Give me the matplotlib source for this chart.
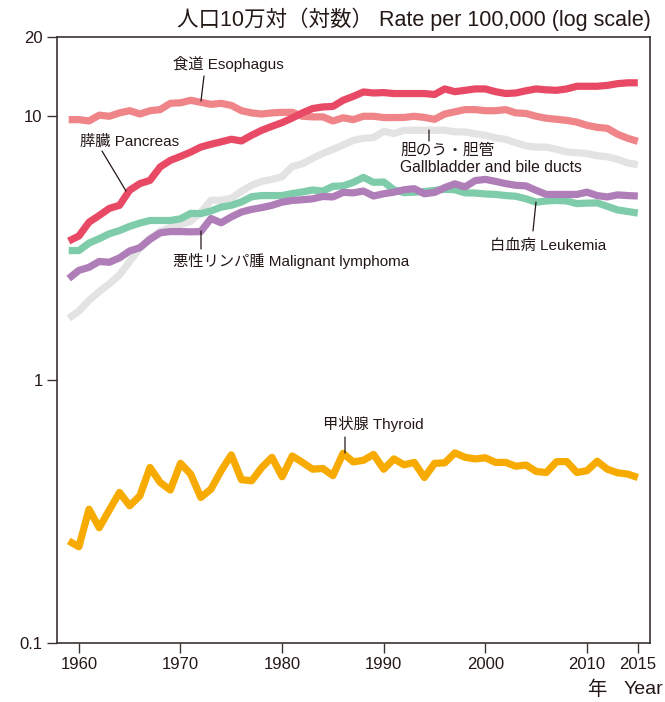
import matplotlib
matplotlib.use("Agg")
import matplotlib.pyplot as plt
from matplotlib.ticker import FixedLocator, NullLocator

years = list(range(1959, 2016))

pancreas = [3.36, 3.51, 3.96, 4.2, 4.47, 4.59, 5.24, 5.55, 5.71, 6.42, 6.8, 7.04, 7.31, 7.64,
            7.83, 8.0, 8.18, 8.06, 8.47, 8.85, 9.16, 9.46, 9.85, 10.3, 10.7, 10.85, 10.9, 11.5,
            11.9, 12.37, 12.26, 12.3, 12.2, 12.2, 12.2, 12.2, 12.1, 12.7, 12.4, 12.55, 12.7, 12.7,
            12.4, 12.2, 12.26, 12.5, 12.7, 12.6, 12.55, 12.7, 13.0, 13.0, 13.0, 13.1, 13.3, 13.4, 13.4]

esophagus = [9.71, 9.71, 9.6, 10.1, 10.0, 10.3, 10.5, 10.2, 10.5, 10.6, 11.2, 11.25, 11.5, 11.3,
             11.1, 11.2, 11.0, 10.5, 10.3, 10.2, 10.3, 10.35, 10.35, 10.0, 9.95, 9.95, 9.6, 9.87,
             9.71, 10.0, 10.0, 9.89, 9.89, 9.9, 10.0, 9.9, 9.74, 10.2, 10.4, 10.6, 10.6, 10.5,
             10.5, 10.6, 10.3, 10.25, 10.0, 9.83, 9.74, 9.65, 9.5, 9.24, 9.08, 9.0, 8.55, 8.25, 8.03]

gallbladder = [1.71, 1.82, 2.0, 2.16, 2.31, 2.5, 2.81, 3.16, 3.44, 3.66, 3.78, 3.88, 3.99, 4.32,
               4.8, 4.8, 4.88, 5.19, 5.47, 5.66, 5.76, 5.9, 6.45, 6.6, 6.92, 7.23, 7.49, 7.77,
               8.1, 8.25, 8.3, 8.77, 8.6, 8.85, 8.85, 8.85, 8.85, 8.85, 8.73, 8.72, 8.58, 8.47,
               8.28, 8.17, 7.93, 7.72, 7.64, 7.64, 7.49, 7.32, 7.27, 7.22, 7.08, 7.02, 6.86, 6.65, 6.55]

leukemia = [3.09, 3.09, 3.3, 3.43, 3.58, 3.68, 3.82, 3.93, 4.02, 4.02, 4.02, 4.08, 4.28, 4.27,
            4.37, 4.52, 4.59, 4.73, 4.95, 5.0, 5.0, 5.0, 5.09, 5.16, 5.25, 5.2, 5.42, 5.44,
            5.61, 5.86, 5.61, 5.63, 5.26, 5.13, 5.15, 5.18, 5.23, 5.28, 5.26, 5.12, 5.11, 5.07,
            5.05, 5.0, 4.97, 4.86, 4.72, 4.77, 4.79, 4.77, 4.66, 4.68, 4.69, 4.55, 4.41, 4.35, 4.29]

lymphoma = [2.42, 2.6, 2.67, 2.81, 2.79, 2.9, 3.08, 3.17, 3.41, 3.61, 3.65, 3.65, 3.64, 3.65,
            4.09, 3.94, 4.15, 4.33, 4.43, 4.5, 4.59, 4.72, 4.79, 4.82, 4.86, 4.96, 4.94, 5.14,
            5.12, 5.2, 4.98, 5.08, 5.15, 5.26, 5.31, 5.08, 5.14, 5.36, 5.54, 5.39, 5.7, 5.76,
            5.66, 5.55, 5.47, 5.44, 5.23, 5.05, 5.05, 5.05, 5.05, 5.15, 5.0, 4.94, 5.03, 5.0, 4.98]

thyroid = [0.244, 0.232, 0.322, 0.274, 0.32, 0.373, 0.332, 0.362, 0.464, 0.407, 0.381, 0.481,
           0.438, 0.357, 0.384, 0.451, 0.518, 0.417, 0.413, 0.464, 0.507, 0.428, 0.513, 0.485,
           0.457, 0.46, 0.432, 0.525, 0.487, 0.494, 0.52, 0.457, 0.5, 0.475, 0.485, 0.425,
           0.481, 0.483, 0.527, 0.507, 0.5, 0.505, 0.485, 0.485, 0.469, 0.474, 0.448, 0.444,
           0.488, 0.489, 0.444, 0.451, 0.49, 0.457, 0.443, 0.438, 0.425]

x_ticks = [1960, 1970, 1980, 1990, 2000, 2010, 2015]
y_ticks = [0.1, 1, 10, 20]
y_tick_labels = ["0.1", "1", "10", "20"]

FAM = ["Liberation Sans", "Noto Sans CJK JP", "DejaVu Sans"]
plt.rcParams["font.family"] = FAM
INK = "#231815"

W, H = 665, 702
fig = plt.figure(figsize=(W / 100, H / 100), dpi=100)
L, R, T, B = 56.5, 650, 37, 643
ax = fig.add_axes([L / W, 1 - B / H, (R - L) / W, (B - T) / H])

series = [
    (gallbladder, "#E3E3E3"),
    (leukemia, "#7FCCAB"),
    (lymphoma, "#AF7DB7"),
    (esophagus, "#F08589"),
    (pancreas, "#E84A66"),
    (thyroid, "#F7AB00"),
]
for vals, col in series:
    ax.plot(years, vals, color=col, lw=5.2, solid_capstyle="butt", solid_joinstyle="round")

ax.set_yscale("log")
ax.set_ylim(0.1, 20)
ax.set_xlim(1957.8, 2016.2)
ax.yaxis.set_major_locator(FixedLocator(y_ticks))
ax.yaxis.set_minor_locator(NullLocator())
ax.set_yticklabels(y_tick_labels)
ax.set_xticks(x_ticks)
ax.set_xticklabels([str(v) for v in x_ticks])
ax.tick_params(axis="both", direction="out", length=7, width=1.0, color="#3a3330",
               labelsize=12, labelcolor=INK, pad=3)
for s in ax.spines.values():
    s.set_color("#3a3330")
    s.set_linewidth(1.2)


def fp(x, y):
    return (x / W, 1 - y / H)


def label(x, y, s, ha="left", size=11):
    fig.text(*fp(x, y), s, ha=ha, va="center", fontsize=size, color=INK, family=FAM)


def leader(x0, y0, x1, y1):
    ax.annotate("", xy=fp(x1, y1), xycoords="figure fraction", xytext=fp(x0, y0),
                textcoords="figure fraction",
                arrowprops=dict(arrowstyle="-", lw=0.9, color=INK, shrinkA=0, shrinkB=0))


label(173, 64, "食道 Esophagus")
leader(204, 76, 201, 101)
label(80, 142, "膵臓 Pancreas")
leader(102, 151, 126, 191)
label(400, 150, "胆のう・胆管", size=11.3)
label(400, 168, "Gallbladder and bile ducts", size=11.3)
leader(429, 130, 429, 141)
label(490, 246, "白血病 Leukemia")
leader(533, 231, 536, 202)
label(173, 261, "悪性リンパ腫 Malignant lymphoma")
leader(201, 231, 201, 249)
label(323, 424, "甲状腺 Thyroid")
leader(345, 437, 345, 453)

fig.text(*fp(651, 19), "人口10万対（対数） Rate per 100,000 (log scale)", ha="right", va="center",
         fontsize=15.5, color=INK, family=FAM)
label(597, 690, "年", ha="center", size=14)
label(663, 690, "Year", ha="right", size=14)

fig.savefig("out.png", dpi=100)
